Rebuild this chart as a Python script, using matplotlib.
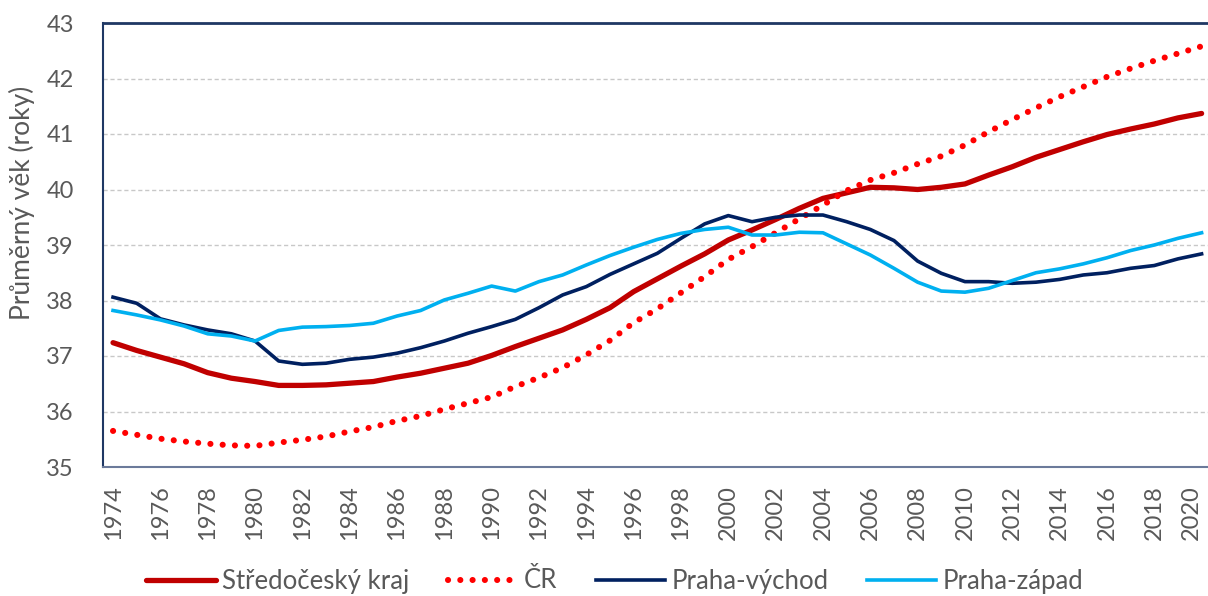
import matplotlib
matplotlib.use("Agg")
from matplotlib import pyplot as plt

#########################################
years = list(range(1974, 2021))

stredocesky = [37.24, 37.10, 36.98, 36.86, 36.70, 36.60, 36.54, 36.47, 36.47, 36.48,
               36.51, 36.54, 36.62, 36.69, 36.78, 36.87, 37.01, 37.17, 37.32, 37.47,
               37.66, 37.87, 38.16, 38.39, 38.62, 38.84, 39.09, 39.27, 39.46, 39.66,
               39.84, 39.94, 40.04, 40.03, 40.00, 40.04, 40.10, 40.26, 40.41, 40.58,
               40.72, 40.86, 40.99, 41.09, 41.18, 41.29, 41.37]

cr = [35.65, 35.58, 35.51, 35.46, 35.42, 35.39, 35.38, 35.44, 35.49, 35.55,
      35.64, 35.72, 35.83, 35.92, 36.04, 36.15, 36.26, 36.45, 36.61, 36.79,
      37.02, 37.28, 37.60, 37.85, 38.14, 38.43, 38.74, 38.97, 39.22, 39.47,
      39.72, 39.98, 40.17, 40.30, 40.46, 40.60, 40.80, 41.04, 41.26, 41.47,
      41.67, 41.85, 42.03, 42.18, 42.32, 42.45, 42.58]

praha_vychod = [38.06, 37.95, 37.67, 37.56, 37.47, 37.40, 37.27, 36.91, 36.85, 36.87,
                36.94, 36.98, 37.05, 37.15, 37.27, 37.41, 37.53, 37.66, 37.87, 38.10,
                38.25, 38.47, 38.66, 38.85, 39.12, 39.38, 39.53, 39.42, 39.50, 39.54,
                39.54, 39.42, 39.28, 39.08, 38.71, 38.49, 38.34, 38.34, 38.31, 38.33,
                38.38, 38.46, 38.50, 38.58, 38.63, 38.75, 38.84]

praha_zapad = [37.82, 37.74, 37.65, 37.54, 37.40, 37.36, 37.27, 37.46, 37.52, 37.53,
               37.55, 37.59, 37.72, 37.82, 38.01, 38.13, 38.26, 38.17, 38.34, 38.46,
               38.64, 38.81, 38.96, 39.10, 39.21, 39.28, 39.32, 39.18, 39.18, 39.23,
               39.22, 39.02, 38.82, 38.58, 38.33, 38.17, 38.15, 38.22, 38.36, 38.50,
               38.57, 38.66, 38.77, 38.90, 39.00, 39.12, 39.22]

labels = ["Středočeský kraj", "ČR", "Praha-východ", "Praha-západ"]
#########################################

plt.rcParams["font.family"] = ["Lato", "DejaVu Sans"]
txt = "#595959"

fig = plt.figure(figsize=(12.08, 5.96), dpi=100)
ax = fig.add_axes([103/1208, 1 - 467/596, 1 - 103/1208 + 0.003, (467 - 23)/596])

ax.plot(years, stredocesky, color="#C00000", lw=3.8, label=labels[0],
        solid_capstyle="round", solid_joinstyle="round")
ax.plot(years, cr, color="#FF0000", lw=4.4, linestyle=(0, (0.01, 2.0)),
        dash_capstyle="round", label=labels[1])
ax.plot(years, praha_vychod, color="#002060", lw=2.6, label=labels[2],
        solid_joinstyle="round")
ax.plot(years, praha_zapad, color="#00B0F0", lw=2.6, label=labels[3],
        solid_joinstyle="round")

ax.set_ylim(35, 43)
ax.set_xlim(1974 - 10/23.6, 2020 + 10/23.6)
ax.set_yticks(range(35, 44))
ax.set_xticks(range(1974, 2021, 2))
ax.tick_params(axis="y", length=0, pad=21, labelsize=17, labelcolor=txt)
ax.tick_params(axis="x", length=0, pad=13, labelsize=17, labelcolor=txt,
               labelrotation=90)
# last label sits right at the figure edge, nudge it in a bit
ax.get_xticklabels()[-1].set_horizontalalignment("right")

ax.grid(axis="y", color="#C8C8C8", linestyle=(0, (3, 2)), lw=1)
ax.set_axisbelow(True)

ax.spines["right"].set_visible(False)
ax.spines["left"].set_color("#1F3864")
ax.spines["top"].set_color("#1F3864")
ax.spines["top"].set_linewidth(2)
ax.spines["left"].set_linewidth(1.5)
ax.spines["bottom"].set_color("#6B7A9A")
ax.spines["bottom"].set_linewidth(1.5)

fig.text(22/1208, 1 - 203/596, "Průměrný věk (roky)", rotation=90,
         ha="center", va="center", fontsize=19, color=txt)

fig.legend(loc="center", bbox_to_anchor=(615/1208, 1 - 581/596), ncol=4,
           frameon=False, fontsize=18.5, labelcolor=txt, handlelength=2.7,
           handletextpad=0.25, columnspacing=1.5)

fig.savefig("out.png", dpi=100)
